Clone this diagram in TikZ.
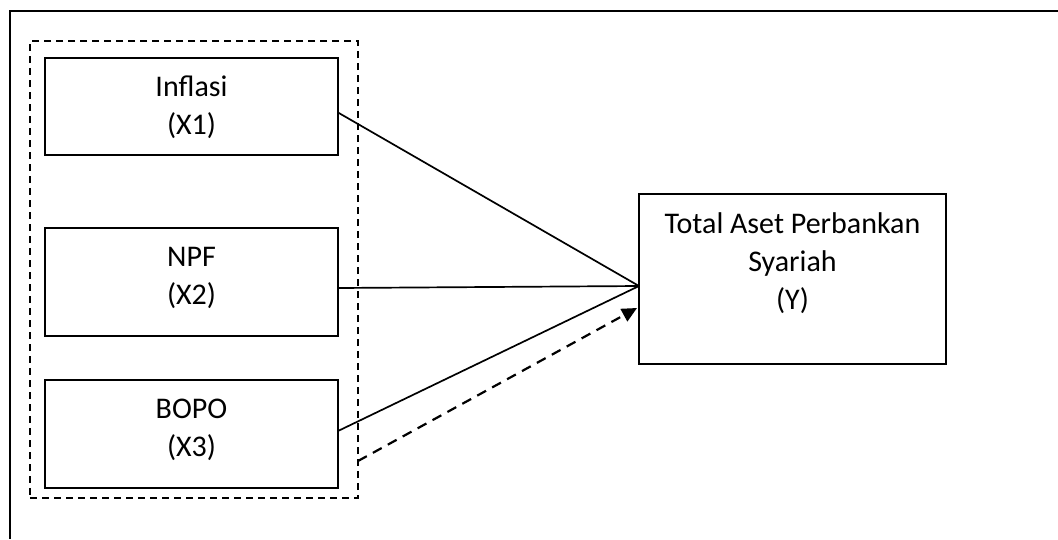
\documentclass[tikz,border=0pt]{standalone}
\usepackage{fontspec}
\setmainfont{Carlito}
\usepackage{tikz}
\usetikzlibrary{arrows.meta, positioning}

\begin{document}
\begin{tikzpicture}[x=1pt, y=-1pt, node distance=18pt,
    varbox/.style={draw, line width=1.9pt, inner sep=0pt, outer sep=0pt, minimum width=293pt},
    vartext/.style={inner sep=0pt, align=center, font=\fontsize{30}{38}\selectfont},
    link/.style={line width=1.7pt}]
    \useasboundingbox (0,0) rectangle (1058,539);
    \draw[line width=2.4pt] (1058,11) -- (10,11) -- (10,539);

    \node[draw, dash pattern=on 7pt off 5pt, line width=1.6pt, inner sep=0pt, outer sep=0pt,
        minimum width=328pt, minimum height=457pt] (group) at (194,269.5) {};

    \node[varbox, minimum height=97pt] (x1) at (191.5,106.5) {};
    \node[varbox, minimum height=108pt, below=73pt of x1] (x2) {};
    \node[varbox, minimum height=108pt, below=44pt of x2] (x3) {};
    \node[vartext, below=18pt of x1.north] (t1) {Inflasi\\(X1)};
    \node[vartext, below=19pt of x2.north] (t2) {NPF\\(X2)};
    \node[vartext, below=19pt of x3.north] (t3) {BOPO\\(X3)};

    \node[varbox, minimum width=307pt, minimum height=170pt] (y) at (792.5,279) {};
    \node[vartext, below=18pt of y.north] (ty) {Total Aset Perbankan\\Syariah\\(Y)};

    \coordinate (hub) at ([yshift=-7pt]y.west);
    \draw[link] ([yshift=-6pt]x1.east) -- (hub);
    \draw[link] ([yshift=-6pt]x2.east) -- (hub);
    \draw[link] ([yshift=3pt]x3.east) -- (hub);
    \draw[line width=2.2pt, dash pattern=on 10pt off 7pt, -{Triangle[length=15pt, width=14pt]}]
        ([yshift=37pt]group.south east) -- ([xshift=-2pt, yshift=-29pt]y.west);
\end{tikzpicture}
\end{document}
